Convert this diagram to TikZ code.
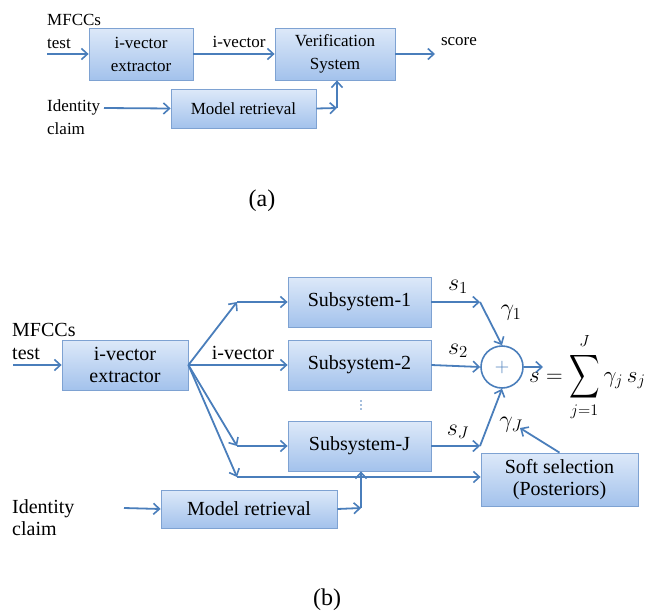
\RequirePackage{fix-cm}
\documentclass[tikz,border=0pt]{standalone}
\usepackage{exscale}
\usepackage{fontspec}
\setmainfont{Liberation Serif}
\usepackage{graphicx}
\usetikzlibrary{arrows.meta,shadows,calc}
\definecolor{arrowblue}{HTML}{4A7EBB}
\definecolor{boxedge}{HTML}{7EA2D2}
\definecolor{boxtop}{HTML}{DDE9F9}
\definecolor{boxbot}{HTML}{A3C2EC}
\tikzset{
  box/.style={draw=boxedge, line width=0.8pt, top color=boxtop, bottom color=boxbot,
    inner sep=0pt, align=center,
    drop shadow={shadow xshift=1.2pt, shadow yshift=-1.2pt, opacity=0.3, fill=gray}},
  arr/.style={draw=arrowblue, line width=1.8pt, -{Straight Barb[length=6pt,width=11pt,line width=1.6pt]}},
  ln/.style={draw=arrowblue, line width=1.8pt},
  lab/.style={inner sep=0pt, align=left},
  fa/.style={font=\fontsize{17}{23}\selectfont},
  fb/.style={font=\fontsize{20}{22.5}\selectfont},
  fm/.style={font=\fontsize{24}{28}\selectfont},
  dot/.style={circle, fill=arrowblue, inner sep=0pt, minimum size=1.8pt},
}
\begin{document}
\begin{tikzpicture}[x=1pt,y=-1pt]
\useasboundingbox (0,0) rectangle (646,616);

% ---------------- (a) ----------------
\node[box, fa, minimum width=104pt, minimum height=52pt] (ext) at (141,54) {i-vector\\extractor};
\node[box, fa, minimum width=120pt, minimum height=52pt] (ver) at (335,54) {Verification\\System};
\node[box, fa, minimum width=145pt, minimum height=39pt] (mod) at (243.5,108.5) {Model retrieval};

\node[lab, fa, anchor=west] (mfa) at (47,31) {MFCCs\\test};
\node[lab, fa, anchor=west] (ida) at (47,117.5) {Identity\\claim};
\node[lab, fa] (iva) at (239,42) {i-vector};
\node[lab, fa] (sca) at (459,42) {score};

\coordinate (ina) at (47,54);
\coordinate (outa) at (435,54);
\coordinate (idin) at (104,108);
\coordinate (ja) at (337,108);

\draw[arr] (ina) -- (ext.west);
\draw[arr] (ext.east) -- (ver.west);
\draw[arr] (ver.east) -- (outa);
\draw[arr] (idin) -- (mod.west);
\draw[arr] (mod.east) -- (ja);
\draw[arr] (ja) -- (ja |- ver.south);

\node[inner sep=0pt, font=\fontsize{24}{28}\selectfont] (capa) at (262,201) {(a)};

% ---------------- (b) ----------------
\node[box, fb, minimum width=126pt, minimum height=50pt] (ext2) at (125,365) {i-vector\\extractor};
\node[box, fb, minimum width=143pt, minimum height=50pt] (sub1) at (359.5,302) {Subsystem-1};
\node[box, fb, minimum width=143pt, minimum height=50pt] (sub2) at (359.5,365) {Subsystem-2};
\node[box, fb, minimum width=143pt, minimum height=50pt] (subJ) at (359.5,446) {Subsystem-J};
\node[box, fb, minimum width=176pt, minimum height=38pt] (mod2) at (249,509) {Model retrieval};
\node[box, fb, minimum width=157pt, minimum height=53pt] (soft) at (559.5,479.5) {Soft selection\\(Posteriors)};
\node[circle, draw=arrowblue, line width=1.6pt, fill=white, minimum size=42pt, inner sep=0pt,
      text=arrowblue, font=\fontsize{20}{22}\selectfont] (sum) at (502,367) {$+$};

\node[dot] (d1) at (361,401) {};
\node[dot] (d2) at (361,405) {};
\node[dot] (d3) at (361,409) {};

\node[lab, fb, anchor=west] (mfb) at (12,341.5) {MFCCs\\test};
\node[lab, fb, anchor=west] (idb) at (12,517.5) {Identity\\claim};
\node[lab, fb] (ivb) at (243,353) {i-vector};

\coordinate (inb) at (13,365);
\coordinate (b1) at (237,302);
\coordinate (bJ) at (237,446);
\coordinate (bS) at (237,477);
\coordinate (idinb) at (124,508);
\coordinate (jb) at (361,508);
\coordinate (s1p) at (480,302);
\coordinate (sJp) at (480,446);
\coordinate (outb) at (543,367);
\coordinate (gJtip) at (520,428);

\draw[arr] (inb) -- (ext2.west);
\draw[arr] (ext2.east) -- (b1);
\draw[arr] (b1) -- (sub1.west);
\draw[arr] (ext2.east) -- (sub2.west);
\draw[arr] (ext2.east) -- (bJ);
\draw[arr] (bJ) -- (subJ.west);
\draw[arr] (ext2.east) -- (bS);
\draw[arr] (bS) -- (bS -| soft.west);
\draw[arr] (idinb) -- (mod2.west);
\draw[arr] (mod2.east) -- (jb);
\draw[arr] (jb) -- (jb |- subJ.south);
\draw[arr] (sub1.east) -- (s1p);
\draw[arr] (s1p) -- (sum.north);
\draw[arr] (sub2.east) -- (sum.west);
\draw[arr] (subJ.east) -- (sJp);
\draw[arr] (sJp) -- (sum.south);
\draw[arr] (sum.east) -- (outb);
\draw[arr] (soft.north) -- (gJtip);

\node[inner sep=0pt, fm] (ls1) at (458,287) {$s_1$};
\node[inner sep=0pt, fm] (lg1) at (511,313) {$\gamma_1$};
\node[inner sep=0pt, fm] (ls2) at (458,351) {$s_2$};
\node[inner sep=0pt, fm] (lsJ) at (458,432) {$s_J$};
\node[inner sep=0pt, fm] (lgJ) at (511,425) {$\gamma_J$};

\node[anchor=base west, inner sep=0pt, font=\fontsize{23}{27}\selectfont] (formula) at (529,382)
  {$s=\mathop{\vcenter{\hbox{\scalebox{0.85}[1.22]{$\displaystyle\sum$}}}}\limits_{j=1}^{J}\gamma_j\,s_j$};

\node[inner sep=0pt, font=\fontsize{24}{28}\selectfont] (capb) at (327,600) {(b)};
\end{tikzpicture}
\end{document}
